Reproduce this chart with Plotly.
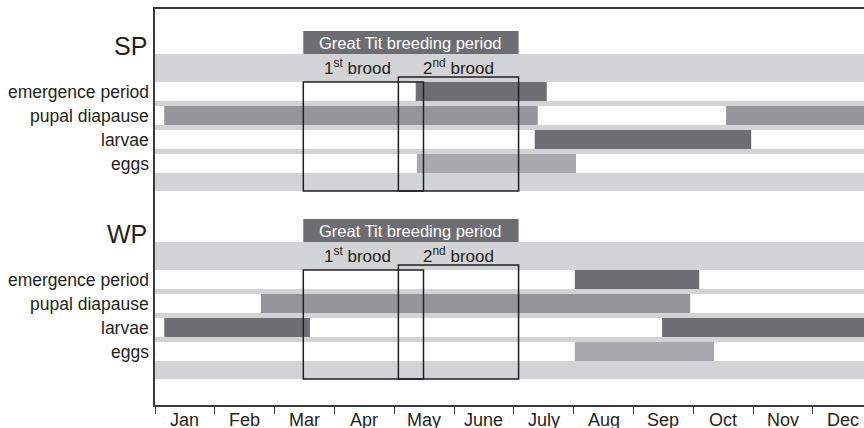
import plotly.graph_objects as go

# ---------------- data ----------------
months = ["Jan", "Feb", "Mar", "Apr", "May", "June", "July", "Aug", "Sep", "Oct", "Nov", "Dec"]
stages = ["emergence period", "pupal diapause", "larvae", "eggs"]
groups = ["SP", "WP"]

# spans in months (0 = start of Jan, 12 = end of Dec)
sp_emergence = [[4.36, 6.55]]
sp_pupal = [[0.155, 6.40], [9.55, 12.0]]
sp_larvae = [[6.35, 9.97]]
sp_eggs = [[4.38, 7.04]]

wp_emergence = [[7.02, 9.10]]
wp_pupal = [[1.77, 8.95]]
wp_larvae = [[0.155, 2.59], [8.48, 12.0]]
wp_eggs = [[7.02, 9.35]]

breeding_period = [2.48, 6.08]
first_brood = [2.48, 4.49]
second_brood = [4.07, 6.08]

breeding_label = "Great Tit breeding period"
brood_labels = ["1<sup>st</sup> brood", "2<sup>nd</sup> brood"]

# ---------------- styling / layout constants ----------------
W, H = 864, 428
ML, MT, MB = 155, 9, 23
PX_PER_MONTH = 59.8
XMAX = (W - ML) / PX_PER_MONTH
PH = H - MT - MB  # plot height in px; y units == px from plot top

BAND = "#d1d3d4"
DARK = "#6d6e71"
MID = "#939598"
LIGHT = "#a7a9ac"
INK = "#231f20"
AXIS = "#3a3a3a"
FONT = "Liberation Sans, Arial, Helvetica, sans-serif"

stage_colors = [DARK, MID, DARK, LIGHT]
group_offsets = [45, 233]  # band top (px from plot top)
ROW_TOP0, ROW_PITCH, ROW_H = 28, 24, 19
BAND_H = 137

group_data = {
    "SP": [sp_emergence, sp_pupal, sp_larvae, sp_eggs],
    "WP": [wp_emergence, wp_pupal, wp_larvae, wp_eggs],
}

fig = go.Figure()
shapes = []
annotations = []

for g, off in zip(groups, group_offsets):
    shapes.append(dict(type="rect", xref="x", yref="y", x0=0, x1=12.2, y0=off, y1=off + BAND_H,
                       fillcolor=BAND, line_width=0, layer="below"))
    for i in range(len(stages)):
        top = off + ROW_TOP0 + ROW_PITCH * i
        shapes.append(dict(type="rect", xref="x", yref="y", x0=0, x1=12.2, y0=top, y1=top + ROW_H,
                           fillcolor="white", line_width=0, layer="below"))
    for i, (spans, col) in enumerate(zip(group_data[g], stage_colors)):
        yc = off + ROW_TOP0 + ROW_PITCH * i + ROW_H / 2
        fig.add_trace(go.Bar(
            orientation="h",
            y=[yc] * len(spans),
            base=[s[0] for s in spans],
            x=[s[1] - s[0] for s in spans],
            width=ROW_H,
            marker=dict(color=col, line_width=0),
            showlegend=False,
            hoverinfo="skip",
        ))
        annotations.append(dict(xref="paper", yref="y", x=0, y=yc, xanchor="right", yanchor="middle",
                                xshift=-4, text=stages[i], showarrow=False,
                                font=dict(size=17.5, color=INK, family=FONT)))
    annotations.append(dict(xref="paper", yref="y", x=0, y=off - 8, xanchor="right", yanchor="middle",
                            xshift=-6, text=g, showarrow=False,
                            font=dict(size=25, color=INK, family=FONT)))
    shapes.append(dict(type="rect", xref="x", yref="y", x0=breeding_period[0], x1=breeding_period[1],
                       y0=off - 23, y1=off, fillcolor=DARK, line_width=0, layer="above"))
    annotations.append(dict(xref="x", yref="y", x=sum(breeding_period) / 2, y=off - 11.5,
                            xanchor="center", yanchor="middle", text=breeding_label, showarrow=False,
                            font=dict(size=16.5, color="white", family=FONT)))
    shapes.append(dict(type="rect", xref="x", yref="y", x0=first_brood[0], x1=first_brood[1],
                       y0=off + ROW_TOP0, y1=off + BAND_H, fillcolor="rgba(0,0,0,0)",
                       line=dict(color=INK, width=1.5), layer="above"))
    shapes.append(dict(type="rect", xref="x", yref="y", x0=second_brood[0], x1=second_brood[1],
                       y0=off + ROW_TOP0 - 5, y1=off + BAND_H, fillcolor="rgba(0,0,0,0)",
                       line=dict(color=INK, width=1.5), layer="above"))
    annotations.append(dict(xref="x", yref="y", x=sum(first_brood) / 2, y=off + 13, xshift=-6,
                            xanchor="center", yanchor="middle", text=brood_labels[0], showarrow=False,
                            font=dict(size=17, color=INK, family=FONT)))
    annotations.append(dict(xref="x", yref="y", x=sum(second_brood) / 2, y=off + 13,
                            xanchor="center", yanchor="middle", text=brood_labels[1], showarrow=False,
                            font=dict(size=17, color=INK, family=FONT)))

# month labels, centred in each month below the axis
for i, m in enumerate(months):
    annotations.append(dict(xref="x", yref="paper", x=i + 0.5, y=0, xanchor="center", yanchor="middle",
                            yshift=-15, text=m, showarrow=False,
                            font=dict(size=18, color=INK, family=FONT)))

fig.update_layout(
    width=W, height=H,
    margin=dict(l=ML, r=0, t=MT, b=MB, pad=0, autoexpand=False),
    plot_bgcolor="white", paper_bgcolor="white",
    barmode="overlay",
    shapes=shapes,
    annotations=annotations,
    xaxis=dict(
        range=[0, XMAX],
        tickvals=list(range(12)),
        ticks="outside", ticklen=7, tickcolor=AXIS, tickwidth=1.2,
        showticklabels=False,
        showgrid=False, zeroline=False,
        showline=True, mirror=True, linecolor=AXIS, linewidth=1.5,
        automargin=False,
        fixedrange=True,
    ),
    yaxis=dict(
        range=[PH, 0],
        showticklabels=False, ticks="",
        showgrid=False, zeroline=False,
        showline=True, linecolor=AXIS, linewidth=1.5,
        automargin=False,
        fixedrange=True,
    ),
)

# remove the browser's default 8px page margin so the figure fills the window exactly
fig.write_html("out.html", config={"displayModeBar": False},
               post_script="document.body.style.margin='0';document.body.style.overflow='hidden';")
